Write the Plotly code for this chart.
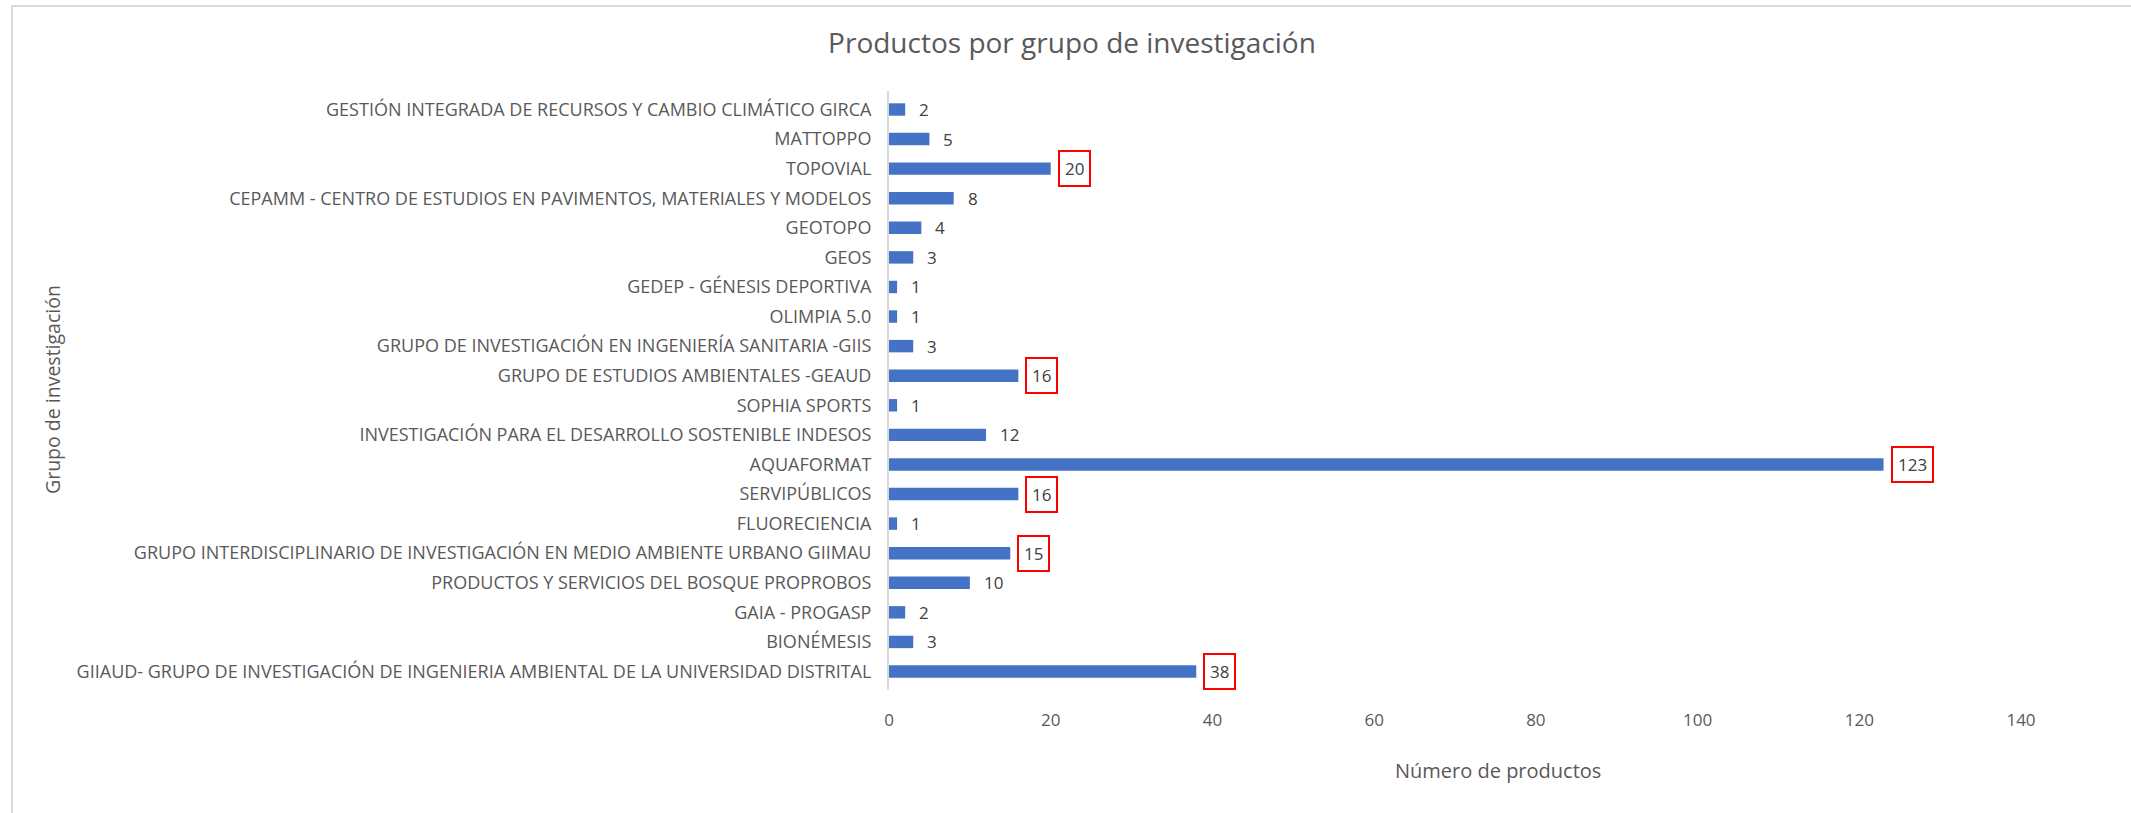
import plotly.graph_objects as go

# ---- data (bottom to top, as drawn) ----
grupos = [
    "GIIAUD- GRUPO DE INVESTIGACIÓN DE INGENIERIA AMBIENTAL DE LA UNIVERSIDAD DISTRITAL",
    "BIONÉMESIS",
    "GAIA - PROGASP",
    "PRODUCTOS Y SERVICIOS DEL BOSQUE PROPROBOS",
    "GRUPO INTERDISCIPLINARIO DE INVESTIGACIÓN EN MEDIO AMBIENTE URBANO GIIMAU",
    "FLUORECIENCIA",
    "SERVIPÚBLICOS",
    "AQUAFORMAT",
    "INVESTIGACIÓN PARA EL DESARROLLO SOSTENIBLE INDESOS",
    "SOPHIA SPORTS",
    "GRUPO DE ESTUDIOS AMBIENTALES -GEAUD",
    "GRUPO DE INVESTIGACIÓN EN INGENIERÍA SANITARIA -GIIS",
    "OLIMPIA 5.0",
    "GEDEP - GÉNESIS DEPORTIVA",
    "GEOS",
    "GEOTOPO",
    "CEPAMM - CENTRO DE ESTUDIOS EN PAVIMENTOS, MATERIALES Y MODELOS",
    "TOPOVIAL",
    "MATTOPPO",
    "GESTIÓN INTEGRADA DE RECURSOS Y CAMBIO CLIMÁTICO GIRCA",
]
productos = [38, 3, 2, 10, 15, 1, 16, 123, 12, 1, 16, 3, 1, 1, 3, 4, 8, 20, 5, 2]
destacados = [True, False, False, False, True, False, True, True, False, False,
              True, False, False, False, False, False, False, True, False, False]
x_ticks = [0, 20, 40, 60, 80, 100, 120, 140]

titulo = "Productos por grupo de investigación"
titulo_x = "Número de productos"
titulo_y = "Grupo de investigación"

# ---- layout constants ----
W, H = 2131, 813
ML, MR, MT, MB = 889, 110, 91, 123
PW, PH = W - ML - MR, H - MT - MB

def px_to_paper_x(px):
    return (px - ML) / PW

def px_to_paper_y(py):
    return (H - MB - py) / PH

FONT = "Open Sans, Liberation Sans, sans-serif"
GRAY = "#595959"

fig = go.Figure()
fig.add_trace(go.Bar(
    y=grupos, x=productos, orientation="h",
    marker=dict(color="#4472C4", line=dict(width=0)),
    hoverinfo="x+y",
))

annotations = []
for g, v, d in zip(grupos, productos, destacados):
    annotations.append(dict(
        x=v, y=g, xref="x", yref="y", text=str(v), showarrow=False,
        xanchor="left", yanchor="middle", xshift=7,
        font=dict(family=FONT, size=17, color="#404040"),
        bordercolor="#FF0000" if d else "rgba(0,0,0,0)",
        borderwidth=2, borderpad=5, bgcolor="rgba(255,255,255,0)",
    ))

annotations.append(dict(
    text=titulo_x, x=px_to_paper_x(1498), y=px_to_paper_y(770),
    xref="paper", yref="paper", showarrow=False, xanchor="center", yanchor="middle",
    font=dict(family=FONT, size=20, color=GRAY),
))
annotations.append(dict(
    text=titulo_y, x=px_to_paper_x(52), y=px_to_paper_y(390),
    xref="paper", yref="paper", showarrow=False, xanchor="center", yanchor="middle",
    textangle=-90, font=dict(family=FONT, size=19.5, color=GRAY),
))

fig.update_layout(
    width=W, height=H,
    margin=dict(l=ML, r=MR, t=MT, b=MB, autoexpand=False),
    paper_bgcolor="white", plot_bgcolor="white",
    showlegend=False,
    bargap=0.58,
    title=dict(text=titulo, x=1072 / W, xanchor="center",
               y=1 - 43 / H, yanchor="middle",
               font=dict(family=FONT, size=28, color=GRAY)),
    xaxis=dict(range=[0, 140], tickvals=x_ticks, showgrid=False, zeroline=False,
               showline=False, ticks="", ticklabelstandoff=18,
               tickfont=dict(family=FONT, size=17, color=GRAY)),
    yaxis=dict(categoryorder="array", categoryarray=grupos, showgrid=False,
               showline=True, linecolor="#D9D9D9", linewidth=2, ticks="",
               ticklabelstandoff=12,
               tickfont=dict(family=FONT, size=18, color=GRAY)),
    annotations=annotations,
    shapes=[dict(type="rect", xref="paper", yref="paper",
                 x0=px_to_paper_x(12), x1=px_to_paper_x(2145),
                 y0=px_to_paper_y(825), y1=px_to_paper_y(6),
                 line=dict(color="#D9D9D9", width=2), fillcolor="rgba(0,0,0,0)",
                 layer="below")],
)

fig.write_html(
    "out.html",
    config={"displayModeBar": False},
    post_script="document.body.style.margin='0';document.body.style.overflow='hidden';",
)
